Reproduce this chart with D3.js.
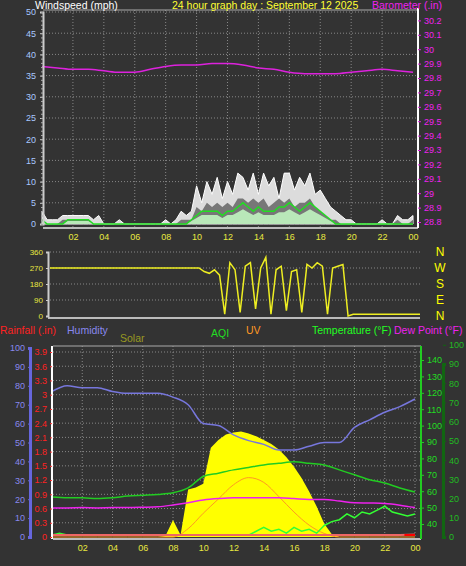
<!DOCTYPE html>
<html><head><meta charset="utf-8">
<script src="https://cdn.jsdelivr.net/npm/d3@7"></script>
<style>body{margin:0;background:#333}svg{display:block}text{font-family:"Liberation Sans",Arial,sans-serif}</style>
</head><body><svg id="c" width="466" height="566"></svg>
<script>
// ---- data ----
const hourTicks = ["02","04","06","08","10","12","14","16","18","20","22","00"];
const baroHourly = [29.88,29.87,29.86,29.86,29.85,29.84,29.84,29.86,29.88,29.89,29.89,29.90,29.90,29.89,29.87,29.86,29.84,29.83,29.83,29.83,29.84,29.85,29.86,29.85,29.84];
// 20-minute samples, 0..24h
const windGust = [3,1,1, 1,2,2, 2,2,2, 2,1,2, 0,0,0, 1,0,0, 0,0,0, 0,0,0, 1,0,1, 3,2,3, 9,5,10, 7,11,6, 10,7,12, 11,8,12, 7,12,9, 11,6,12, 12,8,11, 9,12,7, 8,6,4, 3,2,1, 1,0,0, 0,0,0, 1,0,0, 2,1,1, 2];
const windLow  = [1,0,0, 0,1,1, 1,1,1, 1,0,0, 0,0,0, 0,0,0, 0,0,0, 0,0,0, 0,0,0, 1,1,1, 4,3,5, 4,5,4, 5,4,6, 6,5,6, 5,6,4, 5,6,5, 6,4,5, 5,6,4, 3,2,1, 1,0,0, 0,0,0, 0,0,0, 0,0,0, 1,0,0, 1];
const windAvg  = [1,0,0, 0,0,1, 1,1,1, 1,0,0, 0,0,0, 0,0,0, 0,0,0, 0,0,0, 0,0,0, 0,0,1, 2,3,3, 3,3,2, 3,3,4, 5,4,3, 4,3,3, 3,4,4, 5,4,3, 4,5,4, 3,2,1, 0,0,0, 0,0,0, 0,0,0, 0,0,0, 0,0,0, 0];
const windDir  = [270,270,270, 270,270,270, 270,270,270, 270,270,270, 270,270,270, 270,270,270, 270,270,270, 270,270,270, 270,270,270, 270,270,270, 250,240,260, 230,10,300, 260,20,280, 300,40,270, 330,10,260, 280,30,250, 260,20,290, 270,300,280, 10,270,280, 290,0,10, 10,10,10, 10,10,10, 10,10,10, 10,10,10, 10];
const dirLetters = ["N","W","S","E","N"];
const humidityHourly = [77,80,79,79,77,76,76,76,74,70,60,59,54,51,49,46,46,48,50,50,58,62,66,69,73];
const tempHourly = [56.5,56,56,55.5,56,57,57.5,58,59,62,69,71,73,74.5,76,77,78,77,76,73,70,67,65,62,59.5];
const dewHourly = [49.8,49.8,50,49.8,50,50,50.2,50.5,51.6,53,54.6,55.5,56,56,56,56,55.5,55,55,54,53,52.8,52.5,51.5,50];
const uvHourly = [0,0,0,0,0,0,0,0,0,0.7,2.0,3.2,4.4,5.0,4.6,3.4,2.1,1.0,0.3,0,0,0,0,0,0];
// half-hourly 0..24
const solarHalf = [0,0,0,0,0,0,0,0,0,0,0,0,0,0,0,5,90,10,250,260,280,470,510,540,550,555,545,530,510,490,460,420,370,310,240,160,70,15,0,0,0,0,0,0,0,0,0,0,0];
const aqiHalf = [1,2,1,1,1,1,1,1,1,1,1,1,1,1,1,1,1,1,1,1,1,1,1,1,1,1,1,3,5,3,4,2,5,3,4,2,6,8,9,12,10,13,12,14,16,13,12,11,12];
const rainHourly = [0,0,0,0,0,0,0,0,0,0,0,0,0,0,0,0,0,0,0,0,0,0,0,0,0.01];
const rainTicks = [0,0.3,0.6,0.9,1.2,1.5,1.8,2.1,2.4,2.7,3,3.3,3.6,3.9];

const svg = d3.select("#c");
const idx = (arr, step) => arr.map((v,i)=>[i*step, v]);
const tickText = (g, col, size=9) => g.selectAll("text").attr("fill", col).style("font-size", size+"px");

// ===== top panel =====
const xT = d3.scaleLinear().domain([0,24]).range([42,413]);
const yW = d3.scaleLinear().domain([0,50]).range([224,12]);
const yB = d3.scaleLinear().domain([28.8,29.8]).range([222,78]);
const gT = svg.append("g");
[2,4,6,8,10,12,14,16,18,20,22].forEach(h=>gT.append("line").attr("x1",xT(h)).attr("x2",xT(h)).attr("y1",10).attr("y2",228).attr("stroke","#888").attr("stroke-dasharray","1,2"));
d3.range(5,51,5).forEach(v=>gT.append("line").attr("x1",43).attr("x2",418).attr("y1",yW(v)).attr("y2",yW(v)).attr("stroke","#888").attr("stroke-dasharray","1,2"));
gT.append("line").attr("x1",43).attr("x2",418).attr("y1",10).attr("y2",10).attr("stroke","#aaa");
const sub = 1/3;
gT.append("path").datum(idx(windGust,sub)).attr("fill","#dcdcdc").attr("stroke","#fff").attr("stroke-width",1)
 .attr("d", d3.area().x(d=>xT(d[0])).y0(yW(0)).y1(d=>yW(d[1])));
gT.append("path").datum(idx(windLow,sub)).attr("fill","#777")
 .attr("d", d3.area().x(d=>xT(d[0])).y0(yW(0)).y1(d=>yW(d[1])));
gT.append("path").datum(idx(windAvg,sub)).attr("fill","#b9e8b9")
 .attr("d", d3.area().x(d=>xT(d[0])).y0(yW(0)).y1(d=>yW(d[1]*0.7)));
gT.append("path").datum(idx(windAvg,sub)).attr("fill","none").attr("stroke","#22dd22").attr("stroke-width",1.5)
 .attr("d", d3.line().x(d=>xT(d[0])).y(d=>yW(d[1])));
gT.append("path").datum(idx(baroHourly,1)).attr("fill","none").attr("stroke","#dd22dd").attr("stroke-width",1.5)
 .attr("d", d3.line().curve(d3.curveMonotoneX).x(d=>xT(d[0])).y(d=>yB(d[1])));
gT.append("line").attr("x1",43).attr("x2",418).attr("y1",228).attr("y2",228).attr("stroke","#bbb").attr("stroke-width",2);
const aW = gT.append("g").attr("transform","translate(43,0)").call(d3.axisLeft(yW).tickValues(d3.range(0,51,5)).tickSize(3).tickPadding(4));
aW.select(".domain").attr("stroke","#ccc").attr("stroke-width",2); aW.selectAll("line").attr("stroke","#ccc"); tickText(aW,"#a8c8ff");
gT.append("g").attr("transform","translate(43,0)").call(d3.axisLeft(yW).ticks(50).tickSize(2).tickFormat("")).call(g=>{g.select(".domain").remove();g.selectAll("line").attr("stroke","#aaa");});
const aB = gT.append("g").attr("transform","translate(418,0)").call(d3.axisRight(yB).tickValues(d3.range(28.8,30.25,0.1)).tickFormat(d=>(Math.round(d*10)/10).toString()).tickSize(3));
aB.select(".domain").attr("stroke","#fff").attr("stroke-width",2).attr("d","M0,8V228"); aB.selectAll("line").attr("stroke","#dd22dd"); tickText(aB,"#ee22ee");
const aX = gT.append("g").attr("transform","translate(0,228)").call(d3.axisBottom(xT).tickValues(d3.range(2,25,2)).tickFormat((d,i)=>hourTicks[i]).tickSize(0).tickPadding(6));
aX.select(".domain").remove(); tickText(aX,"#e8e840");
svg.append("text").attr("x",35).attr("y",9).attr("fill","#fff").style("font-size","10.5px").text("Windspeed (mph)");
svg.append("text").attr("x",172).attr("y",9).attr("fill","#ffff33").style("font-size","10.5px").text("24 hour graph day : September 12 2025");
svg.append("text").attr("x",372).attr("y",9).attr("fill","#ee22ee").style("font-size","10.5px").text("Barometer (.in)");

// ===== direction panel =====
const xD = d3.scaleLinear().domain([0,24]).range([50,420]);
const yD = d3.scaleLinear().domain([0,360]).range([316,252]);
const gD = svg.append("g");
[90,180,270,360].forEach(v=>gD.append("line").attr("x1",50).attr("x2",420).attr("y1",yD(v)).attr("y2",yD(v)).attr("stroke","#888").attr("stroke-dasharray","1,2"));
gD.append("path").datum(idx(windDir,sub)).attr("fill","none").attr("stroke","#eeee22").attr("stroke-width",1.5)
 .attr("d", d3.line().x(d=>xD(d[0])).y(d=>yD(d[1])));
gD.append("line").attr("x1",48).attr("x2",420).attr("y1",318).attr("y2",318).attr("stroke","#bbb").attr("stroke-width",2);
const aD = gD.append("g").attr("transform","translate(48,0)").call(d3.axisLeft(yD).tickValues([0,90,180,270,360]).tickSize(2).tickPadding(3));
aD.select(".domain").attr("stroke","#ccc").attr("stroke-width",2); aD.selectAll("line").attr("stroke","#ccc"); tickText(aD,"#e8e840",8);
dirLetters.forEach((t,i)=>svg.append("text").attr("x",440).attr("y",yD(360-i*90)+4).attr("text-anchor","middle").attr("fill","#ffff00").style("font-size","12px").text(t));

// ===== bottom panel =====
const xL = d3.scaleLinear().domain([0,24]).range([52,415]);
const yH = d3.scaleLinear().domain([0,100]).range([537,348]);
const yR = d3.scaleLinear().domain([0,3.9]).range([537,352]);
const yTp = d3.scaleLinear().domain([40,140]).range([524,360]);
const yA = d3.scaleLinear().domain([0,90]).range([537,364]);
const yUV = d3.scaleLinear().domain([0,16]).range([537,347]);
const ySol = d3.scaleLinear().domain([0,1000]).range([537,347]);
const gL = svg.append("g");
d3.range(2,25,2).forEach(h=>gL.append("line").attr("x1",xL(h)).attr("x2",xL(h)).attr("y1",346).attr("y2",539).attr("stroke","#888").attr("stroke-dasharray","1,2"));
rainTicks.slice(1).forEach(v=>gL.append("line").attr("x1",53).attr("x2",421).attr("y1",yR(v)).attr("y2",yR(v)).attr("stroke","#888").attr("stroke-dasharray","1,2"));
gL.append("line").attr("x1",53).attr("x2",421).attr("y1",346).attr("y2",346).attr("stroke","#aaa");
gL.append("path").datum(idx(solarHalf,0.5)).attr("fill","#ffff00")
 .attr("d", d3.area().x(d=>xL(d[0])).y0(yH(0)).y1(d=>ySol(d[1])));
gL.append("path").datum(idx(uvHourly,1)).attr("fill","none").attr("stroke","#ff9922").attr("stroke-width",1)
 .attr("d", d3.line().curve(d3.curveMonotoneX).x(d=>xL(d[0])).y(d=>yUV(d[1])));
gL.append("path").datum(idx(humidityHourly,1)).attr("fill","none").attr("stroke","#7777dd").attr("stroke-width",1.5)
 .attr("d", d3.line().curve(d3.curveMonotoneX).x(d=>xL(d[0])).y(d=>yH(d[1])));
gL.append("path").datum(idx(tempHourly,1)).attr("fill","none").attr("stroke","#22cc22").attr("stroke-width",1.5)
 .attr("d", d3.line().curve(d3.curveMonotoneX).x(d=>xL(d[0])).y(d=>yTp(d[1])));
gL.append("path").datum(idx(dewHourly,1)).attr("fill","none").attr("stroke","#ee22ee").attr("stroke-width",1.5)
 .attr("d", d3.line().curve(d3.curveMonotoneX).x(d=>xL(d[0])).y(d=>yTp(d[1])));
gL.append("path").datum(idx(aqiHalf,0.5)).attr("fill","none").attr("stroke","#33ff33").attr("stroke-width",1.5)
 .attr("d", d3.line().x(d=>xL(d[0])).y(d=>yA(d[1])));
gL.append("path").datum(idx(rainHourly,1)).attr("fill","none").attr("stroke","#ee6666").attr("stroke-width",2)
 .attr("d", d3.line().x(d=>xL(d[0])).y(d=>yR(d[1])-2));
gL.append("line").attr("x1",xL(23.3)).attr("x2",xL(24)).attr("y1",yR(0)-2).attr("y2",yR(0)-2).attr("stroke","#ff0000").attr("stroke-width",2);
gL.append("line").attr("x1",53).attr("x2",421).attr("y1",539).attr("y2",539).attr("stroke","#bbb").attr("stroke-width",2);
const aH = gL.append("g").attr("transform","translate(30,0)").call(d3.axisLeft(yH).tickValues(d3.range(0,101,10)).tickSize(2).tickPadding(3));
aH.select(".domain").attr("stroke","#6666dd").attr("stroke-width",3); aH.selectAll("line").attr("stroke","#6666dd"); tickText(aH,"#8888ee");
const aR = gL.append("g").attr("transform","translate(52,0)").call(d3.axisLeft(yR).tickValues(rainTicks).tickFormat(d=>d===0?"0":(d%1===0?d.toFixed(0):d.toFixed(1))).tickSize(2).tickPadding(3));
aR.select(".domain").attr("stroke","#fff").attr("stroke-width",2).attr("d","M0,346V539"); aR.selectAll("line").attr("stroke","#ff3333"); tickText(aR,"#ff2222");
const aT = gL.append("g").attr("transform","translate(421,0)").call(d3.axisRight(yTp).tickValues(d3.range(40,141,10)).tickSize(3).tickPadding(3));
aT.select(".domain").attr("stroke","#22cc22").attr("stroke-width",2).attr("d","M0,346V539"); aT.selectAll("line").attr("stroke","#22cc22"); tickText(aT,"#22dd22");
const aA = gL.append("g").attr("transform","translate(443,0)").call(d3.axisRight(yA).tickValues(d3.range(0,101,10)).tickSize(3).tickPadding(3));
aA.select(".domain").attr("stroke","#116611").attr("stroke-width",3); aA.selectAll("line").attr("stroke","#116611"); tickText(aA,"#22bb22");
const aX2 = gL.append("g").attr("transform","translate(0,540)").call(d3.axisBottom(xL).tickValues(d3.range(2,25,2)).tickFormat((d,i)=>hourTicks[i]).tickSize(0).tickPadding(5));
aX2.select(".domain").remove(); tickText(aX2,"#e8e840");
const hdr=[["Rainfall (.in)",0,334,"#ff2222"],["Humidity",67,334,"#8888ee"],["Solar",120,342,"#999922"],["AQI",211,337,"#22dd22"],["UV",246,334,"#ff9922"],["Temperature (°F)",312,334,"#22ff22"],["Dew Point (°F)",394,334,"#ee22ee"]];
hdr.forEach(h=>svg.append("text").attr("x",h[1]).attr("y",h[2]).attr("fill",h[3]).style("font-size","10.5px").text(h[0]));
</script></body></html>
